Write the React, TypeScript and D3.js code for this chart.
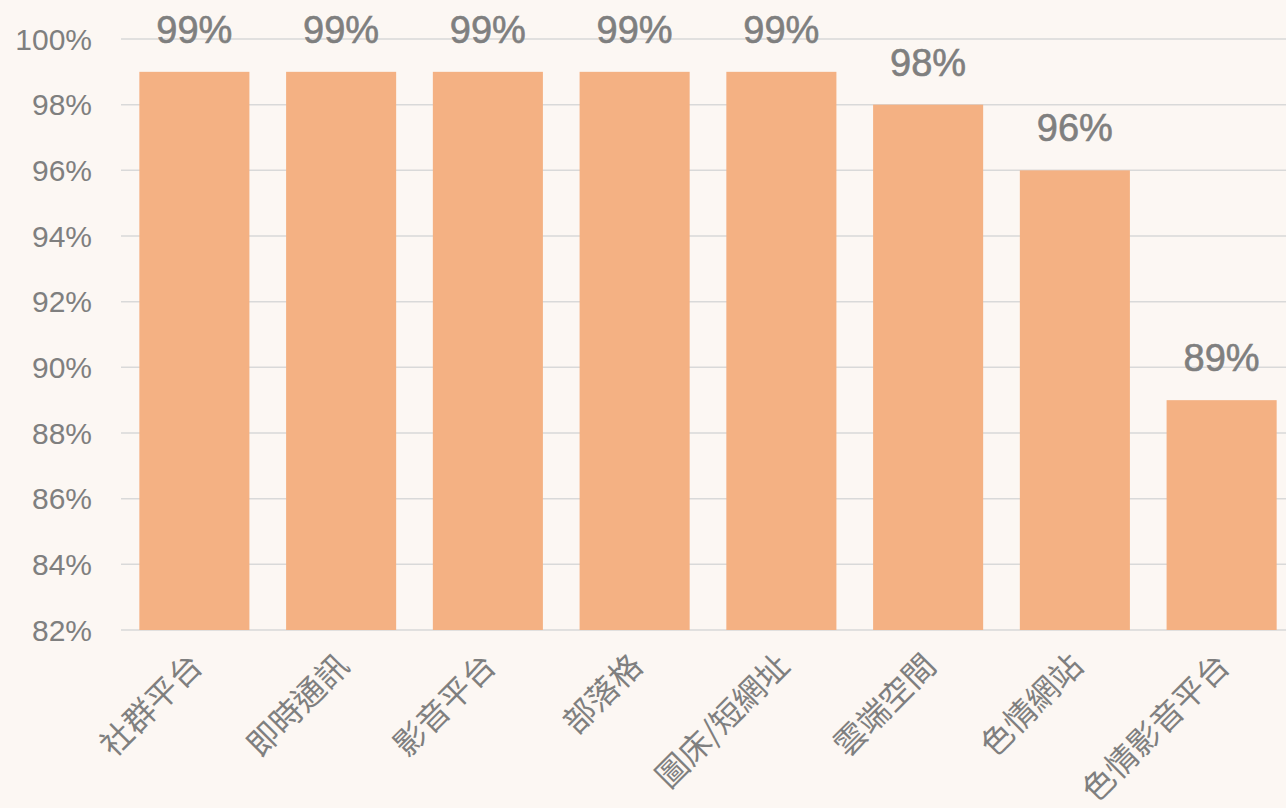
import React, { useEffect, useRef } from 'react';
import * as d3 from 'd3';

const categories = ['社群平台', '即時通訊', '影音平台', '部落格', '圖床/短網址', '雲端空間', '色情網站', '色情影音平台'];
const values = [99, 99, 99, 99, 99, 98, 96, 89];
const yTicks = [82, 84, 86, 88, 90, 92, 94, 96, 98, 100];

export default function App() {
  const svgRef = useRef<SVGSVGElement>(null);

  useEffect(() => {
    if (!svgRef.current) return;
    const svg = d3.select(svgRef.current);
    svg.selectAll('*').remove();

    const width = 1286;
    const height = 808;
    const margin = { top: 39, right: -9, bottom: 178, left: 121 };
    const textColor = '#7f7f7f';
    const latin = '"Liberation Sans", Arial, sans-serif';
    const cjk = '"Noto Sans CJK TC", "Noto Sans CJK SC", sans-serif';

    svg.append('rect').attr('width', width).attr('height', height).attr('fill', '#fcf7f3');

    const x = d3.scaleBand<string>()
      .domain(categories)
      .range([margin.left, width - margin.right])
      .paddingInner(0.25)
      .paddingOuter(0.125);

    const y = d3.scaleLinear()
      .domain([82, 100])
      .range([height - margin.bottom, margin.top]);

    // gridlines
    svg.append('g')
      .selectAll('line')
      .data(yTicks)
      .enter().append('line')
      .attr('x1', margin.left)
      .attr('x2', width)
      .attr('y1', d => y(d))
      .attr('y2', d => y(d))
      .attr('stroke', '#d9d9d9')
      .attr('stroke-width', 1.5);

    // y tick labels
    svg.append('g')
      .selectAll('text')
      .data(yTicks)
      .enter().append('text')
      .attr('x', 92)
      .attr('y', d => y(d))
      .attr('dy', '0.36em')
      .attr('text-anchor', 'end')
      .style('font-family', latin)
      .style('font-size', '30px')
      .style('fill', textColor)
      .text(d => `${d}%`);

    // bars
    svg.append('g')
      .selectAll('rect')
      .data(categories)
      .enter().append('rect')
      .attr('x', d => x(d)!)
      .attr('y', (d, i) => y(values[i]))
      .attr('width', x.bandwidth())
      .attr('height', (d, i) => y(82) - y(values[i]))
      .attr('fill', '#f4b183');

    // value labels
    svg.append('g')
      .selectAll('text')
      .data(categories)
      .enter().append('text')
      .attr('x', d => x(d)! + x.bandwidth() / 2)
      .attr('y', (d, i) => y(values[i]) - 29)
      .attr('text-anchor', 'middle')
      .style('font-family', latin)
      .style('font-size', '38px')
      .style('fill', textColor)
      .style('stroke', textColor)
      .style('stroke-width', 0.6)
      .text((d, i) => `${values[i]}%`);

    // category labels
    svg.append('g')
      .selectAll('text')
      .data(categories)
      .enter().append('text')
      .attr('transform', d => `translate(${x(d)! + x.bandwidth() / 2 + 2},${y(82) + 30}) rotate(-45)`)
      .attr('text-anchor', 'end')
      .attr('dy', '0.35em')
      .style('font-family', cjk)
      .style('font-size', '32px')
      .style('fill', textColor)
      .text(d => d);
  }, []);

  return (
    <svg
      ref={svgRef}
      width={1286}
      height={808}
      style={{ position: 'absolute', top: 0, left: 0, display: 'block' }}
    />
  );
}
